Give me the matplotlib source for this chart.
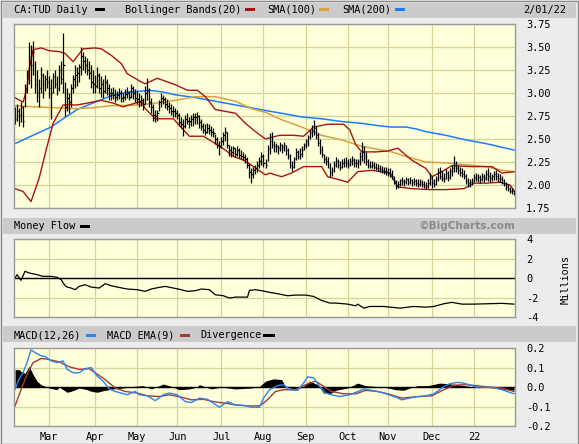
import matplotlib
matplotlib.use('Agg')
import matplotlib.pyplot as plt
from matplotlib.patches import Rectangle
import numpy as np
import pandas as pd

plt.rcParams['font.family'] = ['DejaVu Sans Mono', 'DejaVu Sans']

# ----------------------
# data: CA:TUD daily, Feb 2021 - Feb 2022 (TSX sessions)
# ----------------------
holidays = ['2021-02-15', '2021-04-02', '2021-05-24', '2021-07-01', '2021-08-02',
            '2021-09-06', '2021-10-11', '2021-12-27', '2021-12-28', '2022-01-03']
month_starts = ['2021-03-01', '2021-04-01', '2021-05-01', '2021-06-01', '2021-07-01',
                '2021-08-01', '2021-09-01', '2021-10-01', '2021-11-01', '2021-12-01',
                '2022-01-01']
month_labels = ['Mar', 'Apr', 'May', 'Jun', 'Jul', 'Aug', 'Sep', 'Oct', 'Nov', 'Dec', '22']

high = [
    2.85, 2.88, 2.84, 2.90, 2.86, 3.10, 3.25, 3.55, 3.52, 3.56,
    3.35, 3.25, 3.15, 3.28, 3.22, 3.20, 3.25, 3.18, 3.15, 3.22,
    3.25, 3.18, 3.30, 3.35, 3.65, 3.12, 3.05, 3.00, 3.10, 3.20,
    3.30, 3.28, 3.32, 3.50, 3.45, 3.40, 3.38, 3.35, 3.30, 3.25,
    3.20, 3.28, 3.22, 3.18, 3.15, 3.20, 3.15, 3.10, 3.05, 3.06,
    3.04, 3.02, 3.05, 3.03, 3.00, 3.04, 3.06, 3.02, 3.10, 3.08,
    3.04, 3.02, 3.00, 2.98, 2.95, 3.08, 3.16, 3.05, 2.95, 2.88,
    2.82, 2.82, 2.92, 3.00, 2.98, 2.96, 2.94, 2.90, 2.88, 2.86,
    2.84, 2.82, 2.78, 2.74, 2.72, 2.76, 2.78, 2.74, 2.76, 2.78,
    2.78, 2.79, 2.76, 2.72, 2.67, 2.66, 2.67, 2.66, 2.64, 2.62,
    2.55, 2.52, 2.48, 2.52, 2.58, 2.63, 2.58, 2.44, 2.42, 2.42,
    2.40, 2.42, 2.40, 2.38, 2.36, 2.34, 2.30, 2.24, 2.18, 2.20,
    2.22, 2.26, 2.30, 2.36, 2.34, 2.28, 2.44, 2.56, 2.58, 2.48,
    2.46, 2.44, 2.47, 2.45, 2.47, 2.43, 2.40, 2.34, 2.26, 2.30,
    2.40, 2.38, 2.40, 2.42, 2.46, 2.50, 2.54, 2.60, 2.65, 2.71,
    2.64, 2.56, 2.50, 2.42, 2.34, 2.32, 2.30, 2.24, 2.20, 2.26,
    2.30, 2.28, 2.26, 2.28, 2.29, 2.30, 2.28, 2.29, 2.31, 2.29,
    2.28, 2.28, 2.36, 2.47, 2.42, 2.36, 2.28, 2.26, 2.26, 2.25,
    2.24, 2.23, 2.22, 2.21, 2.20, 2.20, 2.19, 2.18, 2.16, 2.10,
    2.05, 2.04, 2.07, 2.09, 2.07, 2.09, 2.08, 2.09, 2.07, 2.08,
    2.07, 2.06, 2.07, 2.05, 2.04, 2.03, 2.07, 2.13, 2.10, 2.06,
    2.10, 2.18, 2.20, 2.15, 2.13, 2.17, 2.15, 2.19, 2.22, 2.31,
    2.26, 2.22, 2.20, 2.18, 2.16, 2.12, 2.08, 2.06, 2.08, 2.12,
    2.13, 2.12, 2.11, 2.13, 2.12, 2.16, 2.18, 2.14, 2.12, 2.15,
    2.16, 2.13, 2.12, 2.10, 2.07, 2.03, 2.01, 1.98, 1.97, 1.95,
]
low = [
    2.66, 2.70, 2.64, 2.68, 2.63, 2.85, 3.00, 3.10, 3.05, 3.20,
    3.00, 2.90, 2.85, 3.00, 2.95, 3.02, 3.05, 2.95, 2.72, 3.00,
    3.05, 2.98, 3.02, 3.10, 3.00, 2.75, 2.80, 2.78, 2.85, 3.00,
    3.05, 3.08, 3.12, 3.20, 3.25, 3.22, 3.20, 3.15, 3.05, 3.00,
    3.00, 3.05, 3.00, 2.96, 2.95, 3.00, 2.98, 2.92, 2.92, 2.94,
    2.90, 2.92, 2.93, 2.90, 2.90, 2.92, 2.95, 2.92, 2.95, 2.94,
    2.90, 2.88, 2.85, 2.86, 2.82, 2.88, 2.92, 2.85, 2.78, 2.70,
    2.68, 2.70, 2.80, 2.85, 2.88, 2.84, 2.82, 2.78, 2.76, 2.74,
    2.74, 2.72, 2.64, 2.62, 2.53, 2.62, 2.66, 2.62, 2.64, 2.64,
    2.66, 2.66, 2.62, 2.60, 2.56, 2.54, 2.56, 2.55, 2.53, 2.52,
    2.45, 2.40, 2.33, 2.40, 2.44, 2.48, 2.40, 2.32, 2.30, 2.32,
    2.30, 2.32, 2.29, 2.28, 2.27, 2.24, 2.18, 2.08, 2.02, 2.08,
    2.12, 2.14, 2.18, 2.22, 2.20, 2.18, 2.26, 2.34, 2.40, 2.36,
    2.36, 2.34, 2.37, 2.35, 2.37, 2.33, 2.28, 2.18, 2.15, 2.18,
    2.27, 2.28, 2.28, 2.30, 2.38, 2.40, 2.42, 2.50, 2.52, 2.54,
    2.50, 2.42, 2.34, 2.30, 2.24, 2.22, 2.18, 2.09, 2.10, 2.14,
    2.20, 2.18, 2.16, 2.18, 2.20, 2.20, 2.19, 2.21, 2.22, 2.20,
    2.20, 2.19, 2.22, 2.26, 2.24, 2.22, 2.19, 2.18, 2.18, 2.17,
    2.16, 2.15, 2.14, 2.13, 2.12, 2.11, 2.10, 2.09, 2.07, 2.01,
    1.96, 1.97, 1.99, 2.00, 1.99, 2.01, 2.00, 2.01, 1.99, 2.00,
    1.99, 1.98, 1.99, 1.98, 1.97, 1.96, 1.97, 2.00, 1.97, 1.98,
    2.00, 2.04, 2.06, 2.04, 2.03, 2.06, 2.04, 2.07, 2.10, 2.14,
    2.14, 2.12, 2.10, 2.09, 2.07, 2.01, 1.98, 1.98, 2.00, 2.03,
    2.04, 2.03, 2.02, 2.04, 2.03, 2.05, 2.04, 2.03, 2.04, 2.05,
    2.05, 2.03, 2.03, 2.01, 1.99, 1.95, 1.93, 1.91, 1.90, 1.89,
]
close = [
    2.72, 2.80, 2.76, 2.85, 2.70, 3.05, 3.20, 3.40, 3.30, 3.45,
    3.10, 3.00, 3.05, 3.20, 3.10, 3.15, 3.12, 3.05, 3.00, 3.18,
    3.10, 3.05, 3.25, 3.15, 3.30, 2.85, 2.95, 2.90, 3.05, 3.15,
    3.20, 3.22, 3.28, 3.40, 3.35, 3.30, 3.25, 3.22, 3.12, 3.10,
    3.08, 3.20, 3.05, 3.10, 3.02, 3.12, 3.05, 3.00, 3.00, 2.98,
    2.96, 2.98, 3.00, 2.95, 2.96, 2.99, 3.00, 2.96, 3.05, 3.00,
    2.95, 2.93, 2.90, 2.92, 2.88, 3.00, 3.02, 2.90, 2.85, 2.76,
    2.75, 2.78, 2.90, 2.95, 2.93, 2.88, 2.86, 2.84, 2.80, 2.80,
    2.78, 2.76, 2.68, 2.66, 2.64, 2.72, 2.70, 2.70, 2.72, 2.74,
    2.74, 2.75, 2.68, 2.64, 2.60, 2.58, 2.62, 2.60, 2.58, 2.56,
    2.50, 2.44, 2.42, 2.48, 2.54, 2.58, 2.44, 2.38, 2.36, 2.40,
    2.34, 2.38, 2.33, 2.32, 2.30, 2.28, 2.22, 2.14, 2.12, 2.16,
    2.18, 2.22, 2.26, 2.32, 2.24, 2.22, 2.40, 2.48, 2.44, 2.42,
    2.42, 2.40, 2.44, 2.41, 2.43, 2.38, 2.32, 2.22, 2.20, 2.28,
    2.36, 2.32, 2.34, 2.38, 2.44, 2.48, 2.52, 2.56, 2.60, 2.62,
    2.54, 2.46, 2.38, 2.34, 2.28, 2.26, 2.22, 2.14, 2.16, 2.22,
    2.26, 2.22, 2.20, 2.24, 2.25, 2.24, 2.23, 2.26, 2.27, 2.24,
    2.24, 2.26, 2.32, 2.36, 2.30, 2.26, 2.22, 2.21, 2.22, 2.20,
    2.19, 2.18, 2.17, 2.16, 2.15, 2.14, 2.13, 2.12, 2.10, 2.04,
    2.00, 2.01, 2.05, 2.04, 2.03, 2.06, 2.03, 2.05, 2.03, 2.04,
    2.02, 2.01, 2.03, 2.01, 2.00, 1.99, 2.02, 2.08, 2.02, 2.01,
    2.06, 2.14, 2.10, 2.08, 2.07, 2.13, 2.09, 2.15, 2.18, 2.22,
    2.18, 2.16, 2.14, 2.12, 2.10, 2.04, 2.02, 2.03, 2.05, 2.09,
    2.08, 2.09, 2.06, 2.10, 2.08, 2.12, 2.10, 2.08, 2.10, 2.12,
    2.10, 2.08, 2.06, 2.05, 2.02, 1.98, 1.96, 1.94, 1.93, 1.92,
]

# indicator lines: (session number, value)
boll_up_day = [0, 4, 6, 7, 9, 13, 17, 22, 25, 29, 34, 40, 43, 48, 53, 56, 63, 65, 71,
               80, 86, 91, 95, 100, 110, 115, 120, 125, 132, 139, 144, 149, 156, 164,
               167, 170, 173, 180, 186, 191, 198, 205, 208, 213, 218, 228, 238, 243, 249]
boll_up = [2.95, 2.90, 3.05, 3.25, 3.47, 3.49, 3.46, 3.45, 3.43, 3.34, 3.48, 3.49, 3.48,
           3.41, 3.32, 3.21, 3.12, 3.10, 3.16, 3.09, 3.03, 3.03, 2.96, 2.82, 2.78, 2.67,
           2.58, 2.50, 2.54, 2.54, 2.53, 2.63, 2.66, 2.66, 2.60, 2.44, 2.36, 2.36, 2.37,
           2.40, 2.27, 2.18, 2.09, 2.145, 2.21, 2.20, 2.20, 2.13, 2.145]
boll_lo_day = [0, 4, 8, 12, 16, 19, 24, 31, 36, 43, 49, 54, 63, 65, 70, 79, 84, 87, 94,
               100, 105, 109, 114, 119, 125, 127, 133, 138, 144, 153, 156, 163, 166, 171,
               178, 187, 191, 198, 207, 215, 224, 229, 235, 242, 247, 249]
boll_lo = [1.96, 1.93, 1.82, 2.07, 2.42, 2.67, 2.87, 2.87, 2.89, 2.92, 2.89, 2.85, 2.91,
           2.83, 2.72, 2.72, 2.60, 2.53, 2.53, 2.45, 2.38, 2.31, 2.27, 2.20, 2.11, 2.13,
           2.09, 2.13, 2.20, 2.20, 2.09, 2.05, 2.03, 2.145, 2.16, 2.13, 1.98, 1.96, 1.95,
           1.95, 1.96, 2.02, 2.02, 2.03, 2.00, 1.94]
sma100_day = [0, 10, 20, 30, 39, 47, 62, 70, 80, 90, 100, 110, 118, 125, 133, 143, 153,
              163, 173, 183, 188, 195, 205, 215, 225, 235, 243, 249]
sma100 = [2.86, 2.85, 2.84, 2.83, 2.84, 2.86, 2.87, 2.89, 2.92, 2.96, 2.96, 2.91, 2.83,
          2.79, 2.71, 2.63, 2.54, 2.49, 2.42, 2.38, 2.36, 2.31, 2.25, 2.24, 2.22, 2.20,
          2.16, 2.145]
sma200_day = [0, 8, 18, 24, 31, 41, 48, 56, 63, 67, 74, 80, 90, 100, 110, 120, 125, 133,
              143, 153, 163, 173, 183, 188, 195, 200, 205, 215, 225, 235, 249]
sma200 = [2.45, 2.53, 2.63, 2.72, 2.82, 2.91, 2.97, 3.01, 3.02, 3.03, 3.01, 2.98, 2.95,
          2.91, 2.87, 2.83, 2.81, 2.78, 2.74, 2.72, 2.69, 2.67, 2.64, 2.63, 2.63, 2.61,
          2.58, 2.54, 2.49, 2.45, 2.38]

# money flow (millions)
mf_day = [0, 1, 3, 5, 7, 11, 14, 18, 21, 23, 25, 26, 28, 30, 32, 35, 38, 42, 45, 48, 51,
          56, 61, 65, 68, 72, 75, 79, 83, 86, 90, 93, 97, 100, 104, 107, 110, 114, 116,
          117, 120, 123, 127, 131, 136, 140, 145, 149, 153, 157, 160, 166, 170, 171, 174,
          177, 184, 192, 199, 205, 209, 214, 218, 223, 229, 236, 243, 249]
money_flow = [0.0, 0.34, -0.24, 0.69, 0.52, 0.34, 0.17, 0.17, 0.07, -0.17, -0.79, -0.93,
              -1.03, -1.20, -0.86, -0.69, -0.93, -1.03, -0.58, -0.79, -0.93, -1.13, -1.20,
              -1.37, -1.13, -0.96, -0.86, -1.03, -1.20, -1.37, -1.30, -1.13, -1.20, -1.72,
              -1.82, -2.06, -1.96, -1.96, -1.96, -1.27, -1.20, -1.30, -1.47, -1.61, -1.82,
              -1.75, -1.75, -1.89, -2.30, -2.57, -2.57, -2.68, -2.85, -2.68, -3.09, -2.92,
              -2.92, -3.09, -2.92, -2.99, -2.92, -2.64, -2.50, -2.68, -2.68, -2.64, -2.60,
              -2.68]

# MACD(12,26) and its 9-day EMA
macd_day = [0, 2, 4, 6, 8, 10, 13, 15, 18, 21, 24, 26, 29, 32, 35, 38, 41, 44, 47, 50,
            53, 56, 60, 62, 66, 70, 74, 77, 81, 85, 88, 92, 96, 99, 102, 106, 110, 114,
            118, 122, 124, 127, 131, 134, 137, 141, 144, 146, 149, 152, 155, 158, 162,
            167, 170, 174, 179, 184, 190, 193, 199, 205, 209, 213, 217, 221, 225, 230,
            238, 243, 249]
macd = [-0.014, 0.040, 0.073, 0.125, 0.190, 0.177, 0.160, 0.157, 0.134, 0.125, 0.134,
        0.090, 0.073, 0.073, 0.094, 0.100, 0.056, 0.030, -0.010, -0.023, -0.031, -0.040,
        -0.023, -0.040, -0.045, -0.070, -0.040, -0.031, -0.040, -0.075, -0.080, -0.057,
        -0.063, -0.083, -0.104, -0.075, -0.092, -0.094, -0.104, -0.104, -0.057, -0.014,
        0.007, 0.012, -0.014, -0.017, 0.020, 0.052, 0.047, 0.003, -0.031, -0.040, -0.049,
        -0.040, -0.028, -0.010, -0.019, -0.031, -0.052, -0.066, -0.052, -0.045, -0.035,
        -0.005, 0.017, 0.024, 0.017, 0.000, -0.002, -0.014, -0.035]
ema_day = [0, 3, 6, 9, 13, 16, 22, 27, 32, 37, 40, 45, 50, 55, 61, 66, 72, 77, 83, 88,
           94, 99, 105, 110, 116, 122, 125, 130, 134, 140, 145, 150, 154, 158, 164, 170,
           175, 181, 186, 193, 201, 208, 214, 219, 225, 230, 238, 243, 249]
macd_ema = [-0.097, -0.014, 0.064, 0.125, 0.146, 0.143, 0.129, 0.104, 0.090, 0.094,
            0.073, 0.038, -0.005, -0.023, -0.031, -0.045, -0.049, -0.040, -0.052, -0.066,
            -0.063, -0.075, -0.083, -0.092, -0.097, -0.097, -0.075, -0.023, -0.014,
            -0.014, 0.012, 0.030, 0.003, -0.023, -0.035, -0.035, -0.017, -0.023, -0.035,
            -0.057, -0.049, -0.045, -0.014, 0.009, 0.012, 0.007, -0.002, -0.005, -0.023]
div_day = [0, 2, 3, 5, 7, 9, 11, 13, 17, 21, 22, 26, 28, 31, 32, 36, 38, 41, 44, 49, 54,
           59, 64, 68, 74, 77, 82, 87, 91, 92, 98, 103, 110, 118, 122, 125, 129, 133,
           135, 140, 144, 147, 151, 154, 157, 160, 166, 171, 175, 184, 190, 194, 197,
           201, 206, 212, 216, 221, 227, 232, 240, 245, 249]
divergence = [0.089, 0.089, 0.080, 0.070, 0.106, 0.065, 0.030, 0.012, -0.005, -0.014,
              0.000, -0.027, -0.022, -0.010, -0.005, -0.014, -0.022, -0.027, -0.019,
              -0.010, -0.005, 0.003, 0.007, -0.010, 0.015, 0.007, -0.014, -0.010, 0.000,
              0.012, -0.010, 0.000, -0.010, -0.005, 0.003, 0.030, 0.042, 0.038, 0.003,
              -0.014, 0.003, 0.030, 0.012, -0.031, -0.035, -0.017, -0.005, 0.020, 0.007,
              0.000, -0.014, -0.017, -0.005, 0.007, 0.007, 0.020, 0.017, 0.012, 0.003,
              0.000, -0.005, -0.014, -0.017]

# ----------------------
# sessions / month ticks
# ----------------------
dates = pd.bdate_range('2021-02-03', '2022-02-01')
dates = dates[~dates.isin(pd.to_datetime(holidays))]
day = np.arange(len(dates))
month_pos = [int(np.argmax(dates >= pd.Timestamp(m))) for m in month_starts]

# ----------------------
# figure
# ----------------------
W, H = 579, 444
fig = plt.figure(figsize=(W / 100, H / 100), dpi=100, facecolor='#ececec')


def box(x0, y0, x1, y1):
    return [x0 / W, 1 - y1 / H, (x1 - x0) / W, (y1 - y0) / H]


def ftext(x, y, s, **kw):
    kw.setdefault('fontsize', 7.4)
    kw.setdefault('va', 'center')
    fig.text(x / W, 1 - y / H, s, **kw)


def swatch(x, y, color, w=10, h=3):
    fig.add_artist(Rectangle((x / W, 1 - (y + h / 2) / H), w / W, h / H,
                             transform=fig.transFigure, color=color, lw=0))


fig.add_artist(Rectangle((0.5 / W, 0.5 / H), (W - 1.5) / W, (H - 1.5) / H,
                         transform=fig.transFigure, fill=False, ec='#8c8c8c', lw=1))
for y0, y1 in [(3, 18), (218, 234), (326, 342)]:
    fig.add_artist(Rectangle((3 / W, 1 - y1 / H), (W - 6) / W, (y1 - y0) / H,
                             transform=fig.transFigure, color='#cbcbcb', lw=0))

col_bar = 'black'
col_boll = '#a81414'
col_s100 = '#d9a040'
col_s200 = '#1e7bff'
col_macd = '#2a86f0'
col_ema = '#a23a3a'
grid_col = '#d5d59a'
face = '#ffffd9'

# header texts
ftext(14, 10, 'CA:TUD Daily')
swatch(95, 10, col_bar)
ftext(125, 10, 'Bollinger Bands(20)')
swatch(245, 10, col_boll)
ftext(267, 10, 'SMA(100)')
swatch(319, 10, col_s100)
ftext(342, 10, 'SMA(200)')
swatch(395, 10, col_s200)
ftext(566, 10, '2/01/22', ha='right')

ftext(14, 226, 'Money Flow')
swatch(80, 226, col_bar)
ftext(515, 226, '\u00a9BigCharts.com', ha='right', family='DejaVu Sans',
      fontweight='bold', color='#8a8a8a', fontsize=7.6)

ftext(14, 335, 'MACD(12,26)')
swatch(86, 335, col_macd)
ftext(107, 335, 'MACD EMA(9)')
swatch(180, 335, col_ema)
ftext(200, 335, 'Divergence')
swatch(263, 335, col_bar, w=12)

ftext(566, 279, 'Millions', rotation=90, ha='center')


def style(ax, yticks, fmt):
    ax.set_facecolor(face)
    ax.set_xlim(-0.5, len(day) - 0.5)
    ax.set_xticks(month_pos)
    ax.set_yticks(yticks)
    ax.set_yticklabels([fmt % v for v in yticks])
    ax.yaxis.tick_right()
    ax.tick_params(length=0, labelsize=7.4, pad=8)
    ax.tick_params(axis='x', labelbottom=False)
    ax.grid(True, color=grid_col, lw=0.9)
    ax.set_axisbelow(True)
    for s in ax.spines.values():
        s.set_color('#9a9a9a')
        s.set_linewidth(1.0)


# price panel
ax1 = fig.add_axes(box(14, 24, 515, 208))
style(ax1, np.arange(1.75, 3.76, 0.25), '%.2f')
ax1.set_ylim(1.75, 3.75)
ax1.plot(sma200_day, sma200, color=col_s200, lw=1.1)
ax1.plot(sma100_day, sma100, color=col_s100, lw=1.1)
ax1.plot(boll_up_day, boll_up, color=col_boll, lw=1.0)
ax1.plot(boll_lo_day, boll_lo, color=col_boll, lw=1.0)
ax1.vlines(day, low, high, color=col_bar, lw=0.9)
ax1.hlines(close, day, day + 0.7, color=col_bar, lw=0.9)

# money flow panel
ax2 = fig.add_axes(box(14, 239, 515, 317))
style(ax2, [-4, -2, 0, 2, 4], '%d')
ax2.set_ylim(-4, 4)
ax2.axhline(0, color='black', lw=1.0)
ax2.plot(mf_day, money_flow, color='black', lw=0.9)

# macd panel
ax3 = fig.add_axes(box(14, 348, 515, 426))
style(ax3, [-0.2, -0.1, 0.0, 0.1, 0.2], '%.1f')
ax3.set_ylim(-0.2, 0.2)
ax3.fill_between(div_day, divergence, 0, color='black', lw=0)
ax3.axhline(0, color='black', lw=1.0)
ax3.plot(ema_day, macd_ema, color=col_ema, lw=1.0)
ax3.plot(macd_day, macd, color=col_macd, lw=1.0)
ax3.set_xticklabels(month_labels)
ax3.tick_params(axis='x', labelbottom=True, pad=4)

fig.savefig('out.png', dpi=100, facecolor=fig.get_facecolor())
plt.close(fig)
